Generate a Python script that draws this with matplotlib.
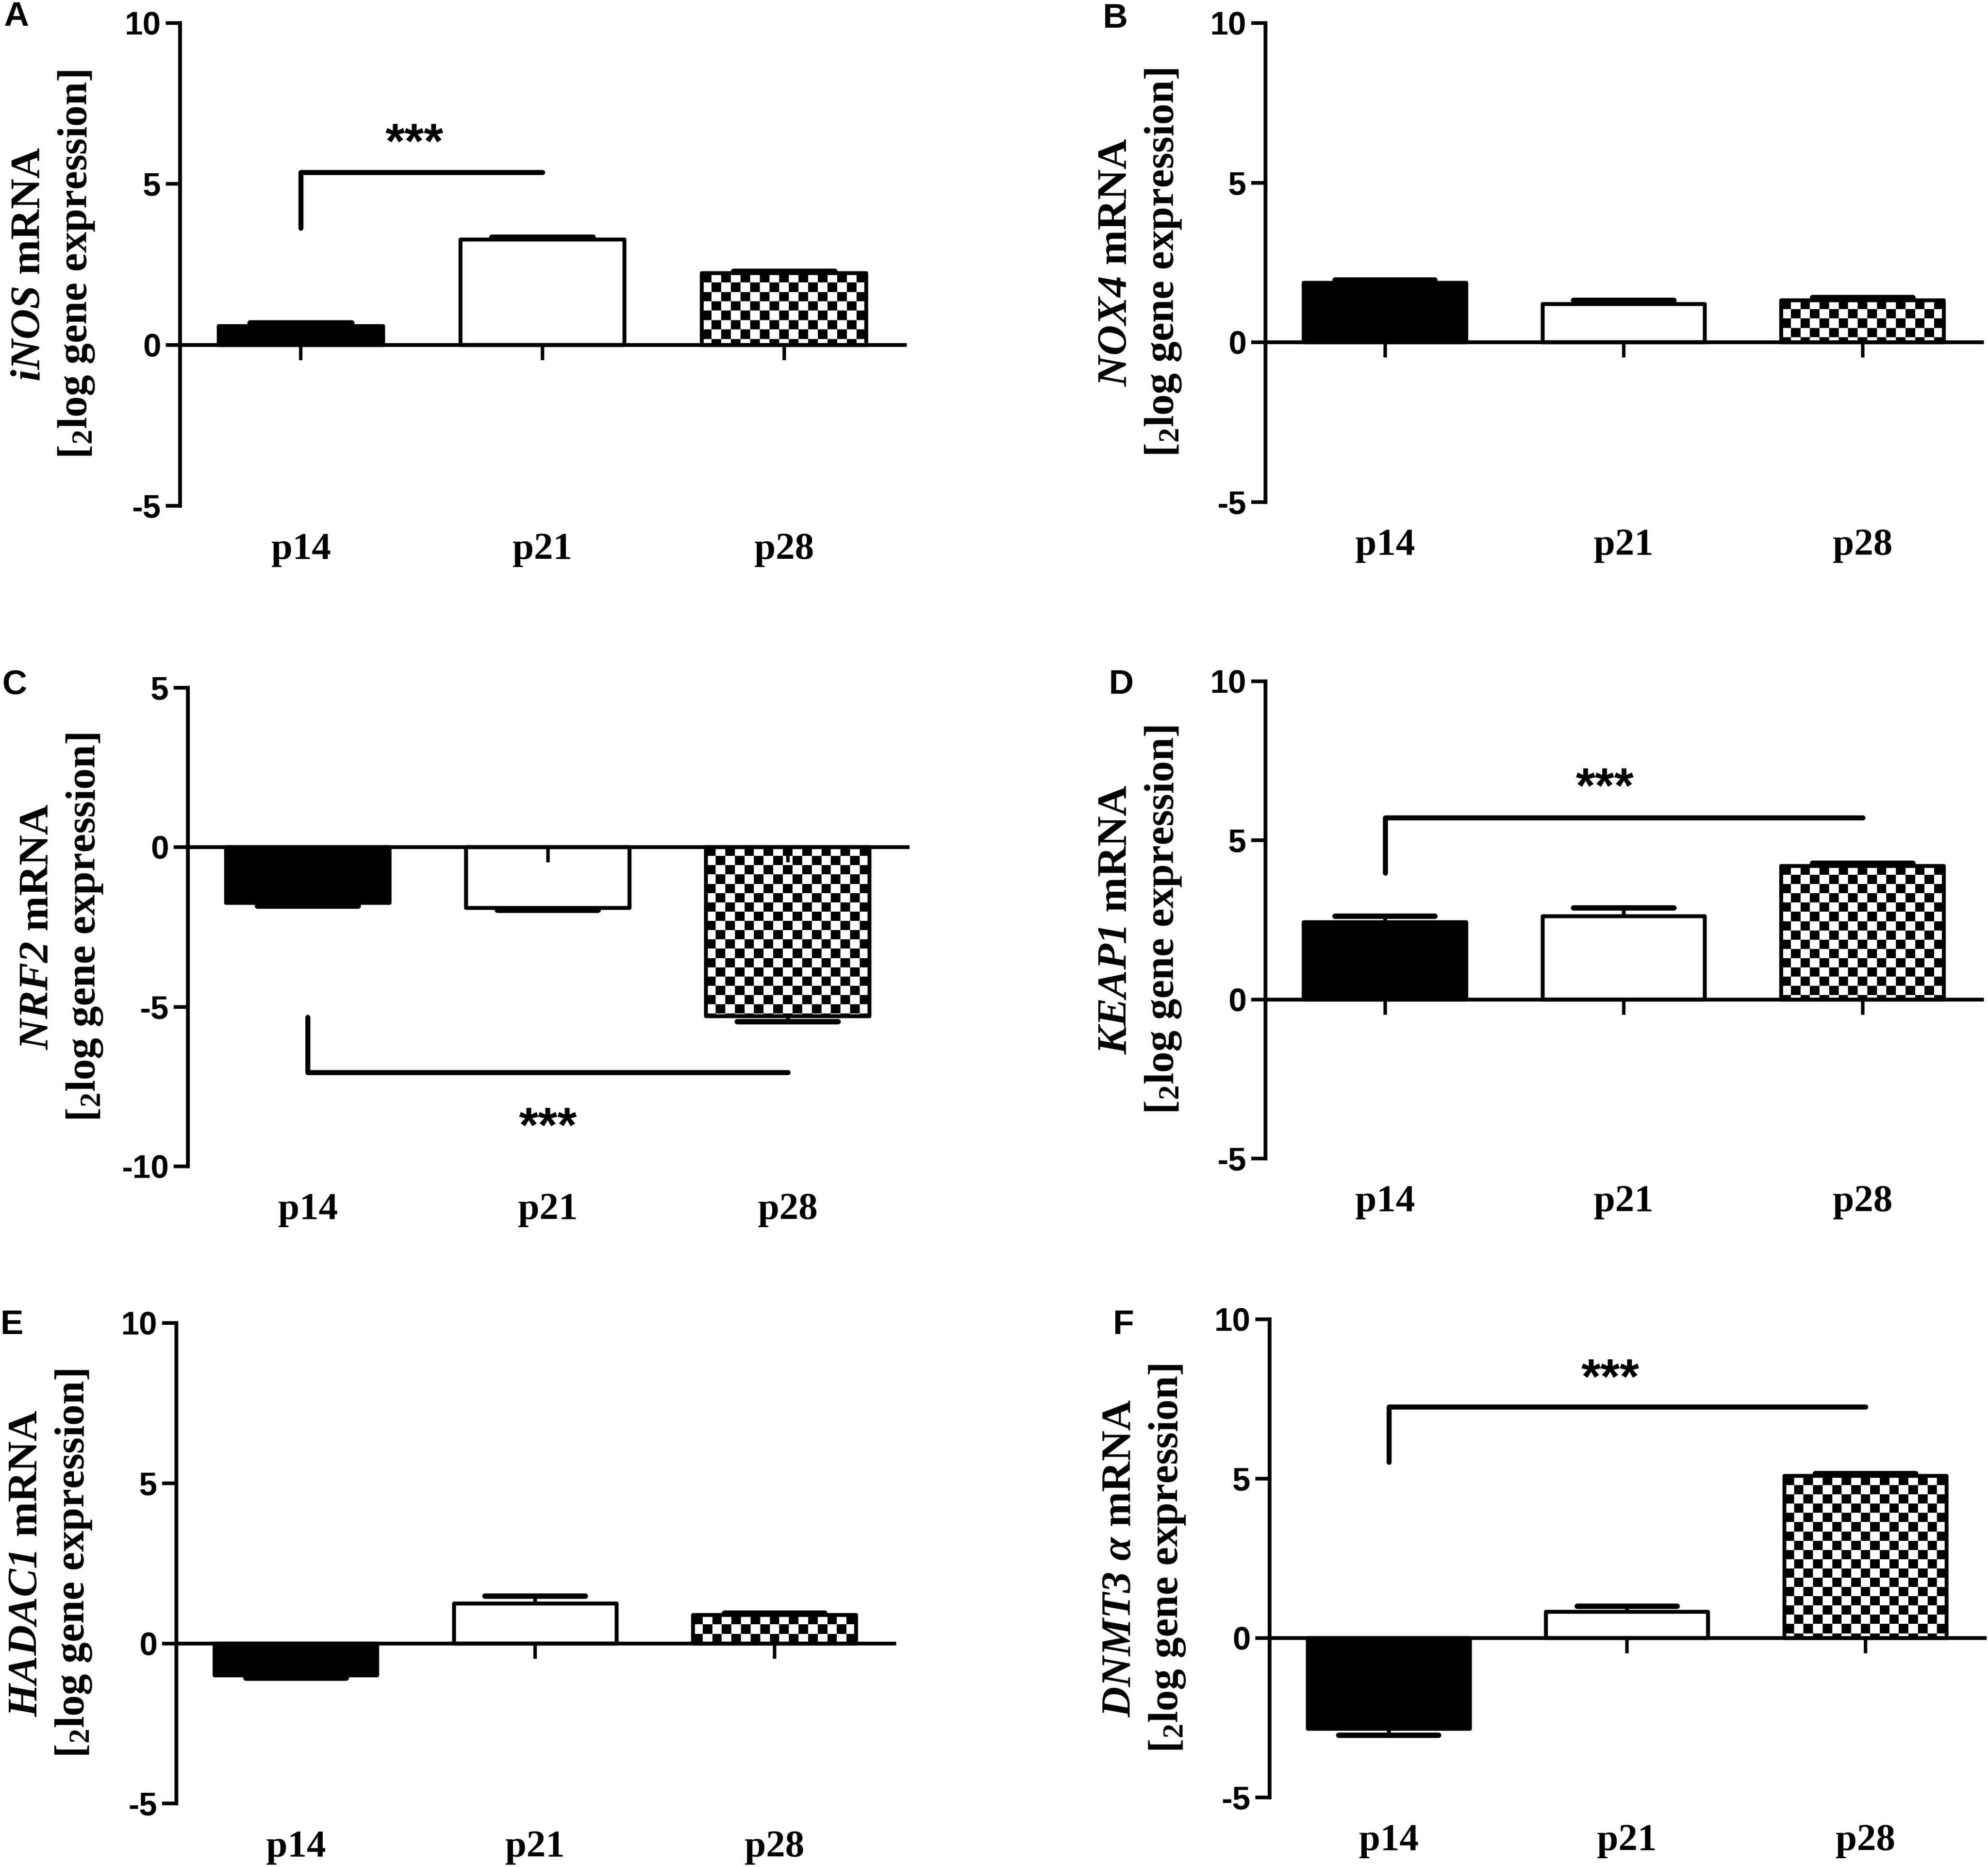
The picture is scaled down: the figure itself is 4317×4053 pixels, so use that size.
import numpy as np
import matplotlib
matplotlib.use('Agg')
import matplotlib.pyplot as plt
import matplotlib.transforms as mtransforms

plt.rcParams['axes.unicode_minus'] = False
plt.rcParams['mathtext.fontset'] = 'custom'
plt.rcParams['mathtext.rm'] = 'Liberation Serif:bold'
plt.rcParams['mathtext.bf'] = 'Liberation Serif:bold'
plt.rcParams['mathtext.it'] = 'Liberation Serif:italic:bold'
# sf slot used for italic gene names so digits stay italic too
plt.rcParams['mathtext.sf'] = 'Liberation Serif:italic:bold'

# groups
ages = ['p14', 'p21', 'p28']

# values (mean and error, log2 expression)
inos_mean = [0.58, 3.27, 2.22]
inos_err = [0.10, 0.08, 0.07]
nox4_mean = [1.87, 1.20, 1.32]
nox4_err = [0.08, 0.12, 0.08]
nrf2_mean = [-1.75, -1.90, -5.30]
nrf2_err = [0.10, 0.07, 0.17]
keap1_mean = [2.42, 2.62, 4.20]
keap1_err = [0.20, 0.25, 0.08]
hadac1_mean = [-1.00, 1.25, 0.88]
hadac1_err = [0.08, 0.22, 0.07]
dnmt3a_mean = [-2.85, 0.82, 5.08]
dnmt3a_err = [0.20, 0.17, 0.08]

gene_names = [r'$\mathsf{iNOS}$', r'$\mathsf{NOX4}$', r'$\mathsf{NRF2}$',
              r'$\mathsf{KEAP1}$', r'$\mathsf{HADAC1}$', r'$\mathsf{DNMT3}\ \alpha$']
panel_letters = ['A', 'B', 'C', 'D', 'E', 'F']
y_ranges = [(-5, 10), (-5, 10), (-10, 5), (-5, 10), (-5, 10), (-5, 10)]

# significance brackets: (panel, x_start, x_end, stem_end, bar_level, star_x, star_y)
brackets = [
    (0, 0, 1, 3.63, 5.36, 0.47, 6.5),
    (2, 0, 2, -5.33, -7.06, 1.0, -8.53),
    (3, 0, 2, 3.97, 5.72, 0.92, 6.9),
    (5, 0, 2, 5.52, 7.25, 0.93, 8.38),
]

all_means = [inos_mean, nox4_mean, nrf2_mean, keap1_mean, hadac1_mean, dnmt3a_mean]
all_errs = [inos_err, nox4_err, nrf2_err, keap1_err, hadac1_err, dnmt3a_err]

# axes placement (figure fractions)
positions = [
    [0.0906, 0.7291, 0.3646, 0.2586],
    [0.6366, 0.7311, 0.3604, 0.2566],
    [0.0945, 0.3753, 0.3621, 0.2564],
    [0.6366, 0.3795, 0.3604, 0.2556],
    [0.0887, 0.0340, 0.3611, 0.2573],
    [0.6386, 0.0373, 0.3597, 0.2561],
]
letter_xy = [(35, 37), (2422, 40), (32, 1487), (2435, 1487), (26, 2876), (2440, 2876)]

W, H = 4317, 4053
fig = plt.figure(figsize=(W / 300, H / 300), dpi=300)

bar_w = 0.68
serif = 'Liberation Serif'
sans = 'Liberation Sans'
lw = 2.0


def checker_fill(ax, rect, sq_x=0.04, sq_y=0.29):
    x0 = rect.get_x()
    w = rect.get_width()
    y0 = rect.get_y()
    h = rect.get_height()
    top = max(y0, y0 + h)
    nx = int(np.ceil(w / sq_x))
    ny = int(np.ceil(abs(h) / sq_y)) + 1
    tex = np.indices((ny, nx)).sum(axis=0) % 2
    im = ax.imshow(tex, cmap='gray', vmin=0, vmax=1, interpolation='nearest',
                   extent=(x0, x0 + nx * sq_x, top - ny * sq_y, top),
                   origin='upper', aspect='auto', zorder=1.1)
    im.set_clip_path(rect)


x = np.arange(len(ages))
for i in range(6):
    ax = fig.add_axes(positions[i])
    means = all_means[i]
    errs = all_errs[i]

    faces = ['black', 'white', 'white']
    bars = ax.bar(x, means, width=bar_w, color=faces, edgecolor='black',
                  linewidth=lw, joinstyle='round', zorder=1)
    checker_fill(ax, bars.patches[2])
    ax.bar(x, means, width=bar_w, fill=False, edgecolor='black',
           linewidth=lw, joinstyle='round', zorder=1.2)

    # one-sided error bars
    ends = [m + e if m >= 0 else m - e for m, e in zip(means, errs)]
    ax.vlines(x, means, ends, color='black', lw=lw, zorder=1.3)
    ax.hlines(ends, x - 0.21, x + 0.21, color='black', lw=2.8,
              capstyle='round', zorder=1.3)

    ax.set_xlim(-0.5, 2.5)
    ax.set_ylim(*y_ranges[i])
    lo, hi = y_ranges[i]
    ax.set_yticks(np.arange(lo, hi + 1, 5))
    ax.set_xticks(x)
    ax.set_xticklabels([])

    for s in ['top', 'right']:
        ax.spines[s].set_visible(False)
    ax.spines['bottom'].set_position(('data', 0))
    ax.spines['bottom'].set_linewidth(lw)
    ax.spines['left'].set_linewidth(lw)
    ax.spines['left'].set_capstyle('projecting')
    ax.tick_params(axis='y', direction='out', length=7.5, width=1.9, pad=2.5,
                   labelsize=17)
    ax.tick_params(axis='x', direction='out', length=8, width=1.8)
    for lab in ax.get_yticklabels():
        lab.set_fontfamily(sans)
        lab.set_fontweight('bold')

    # group labels under the plot
    trans = mtransforms.blended_transform_factory(ax.transData, ax.transAxes)
    for xi, name in zip(x, ages):
        ax.text(xi, -0.091, name, transform=trans, ha='center', va='center',
                fontsize=20, fontfamily=serif, fontweight='bold')

    ax.text(-0.175, 0.5, gene_names[i] + ' mRNA\n[$_2$log gene expression]',
            transform=ax.transAxes, rotation=90, ha='center', va='center',
            multialignment='center', fontsize=22, fontfamily=serif,
            fontweight='bold', linespacing=1.28)

    lx, ly = letter_xy[i]
    fig.text(lx / W, 1 - ly / H, panel_letters[i], ha='center', va='center',
             fontsize=18, fontfamily=sans, fontweight='bold')

    for b in brackets:
        if b[0] != i:
            continue
        _, x0, x1, stem, level, sx, sy = b
        ax.plot([x0, x0, x1], [stem, level, level], color='black', lw=2.6,
                solid_capstyle='round', solid_joinstyle='round', zorder=2)
        ax.annotate('***', xy=(sx, sy), xytext=(0, -0.45 * 26),
                    textcoords='offset points', ha='center', va='baseline',
                    fontsize=26, fontfamily=sans, fontweight='bold')

fig.savefig('out.png', dpi=300)
